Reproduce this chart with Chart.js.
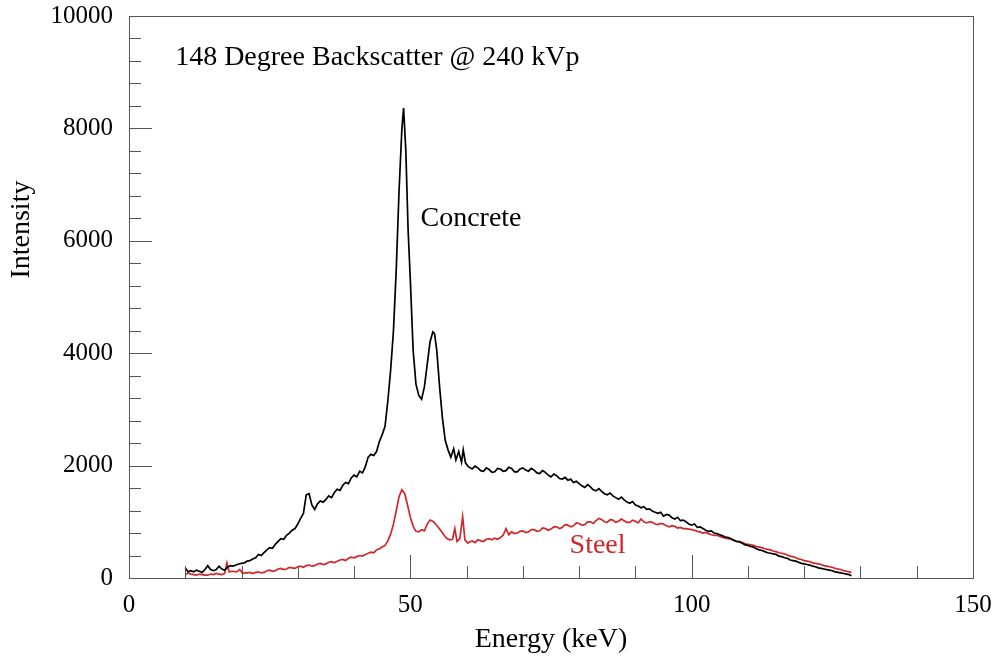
<!DOCTYPE html>
<html>
<head>
<meta charset="utf-8">
<script src="https://cdn.jsdelivr.net/npm/chart.js@4.4.1/dist/chart.umd.min.js"></script>
<style>
  body { margin: 0; background: #fff; }
  #wrap { width: 995px; height: 660px; }
</style>
</head>
<body>
<div id="wrap"><canvas id="myChart" width="995" height="660"></canvas></div>
<script>
// concrete spectrum (energy in keV, intensity)
var concreteE = [10, 10.5, 11, 11.5, 12, 12.5, 13, 13.5, 14, 14.5, 15, 15.5, 16, 16.5, 17, 17.5, 18, 18.5, 19, 19.5, 20, 20.5, 21, 21.5, 22, 22.5, 23, 23.5, 24, 24.5, 25, 25.5, 26, 26.5, 27, 27.5, 28, 28.5, 29, 29.5, 30, 30.5, 31, 31.5, 32, 32.5, 33, 33.5, 34, 34.5, 35, 35.5, 36, 36.5, 37, 37.5, 38, 38.5, 39, 39.5, 40, 40.5, 41, 41.5, 42, 42.5, 43, 43.5, 44, 44.5, 45, 45.5, 46, 46.5, 47, 47.5, 48, 48.5, 48.8, 49.2, 49.6, 50, 50.5, 51, 51.5, 52, 52.5, 53, 53.5, 54, 54.3, 54.7, 55.2, 55.7, 56.2, 56.7, 57.2, 57.7, 58.1, 58.6, 59.1, 59.4, 59.8, 60.3, 61, 61.5, 62, 62.5, 63, 63.5, 64, 64.5, 65, 65.5, 66, 66.5, 67, 67.5, 68, 68.5, 69, 69.5, 70, 70.5, 71, 71.5, 72, 72.5, 73, 73.5, 74, 74.5, 75, 75.5, 76, 76.5, 77, 77.5, 78, 78.5, 79, 79.5, 80, 80.5, 81, 81.5, 82, 82.5, 83, 83.5, 84, 84.5, 85, 85.5, 86, 86.5, 87, 87.5, 88, 88.5, 89, 89.5, 90, 90.5, 91, 91.5, 92, 92.5, 93, 93.5, 94, 94.5, 95, 95.5, 96, 96.5, 97, 97.5, 98, 98.5, 99, 99.5, 100, 100.5, 101, 101.5, 102, 102.5, 103, 103.5, 104, 104.5, 105, 105.5, 106, 106.5, 107, 107.5, 108, 108.5, 109, 109.5, 110, 110.5, 111, 111.5, 112, 112.5, 113, 113.5, 114, 114.5, 115, 115.5, 116, 116.5, 117, 117.5, 118, 118.5, 119, 119.5, 120, 120.5, 121, 121.5, 122, 122.5, 123, 123.5, 124, 124.5, 125, 125.5, 126, 126.5, 127, 127.5, 128, 128.4];
var concreteI = [180, 110, 130, 110, 140, 120, 100, 150, 220, 150, 130, 150, 210, 160, 140, 190, 220, 210, 230, 250, 260, 270, 300, 310, 340, 360, 420, 400, 450, 500, 540, 530, 600, 650, 700, 690, 760, 800, 850, 880, 960, 1060, 1150, 1480, 1500, 1300, 1220, 1320, 1370, 1350, 1400, 1460, 1430, 1520, 1580, 1560, 1650, 1700, 1680, 1780, 1830, 1800, 1900, 1870, 1980, 2150, 2200, 2180, 2250, 2430, 2550, 2700, 3150, 3700, 4400, 5500, 6900, 8000, 8360, 7600, 6200, 5300, 4050, 3450, 3250, 3180, 3400, 3800, 4200, 4380, 4350, 4050, 3400, 2850, 2450, 2280, 2150, 2300, 2100, 2250, 2060, 2280, 2050, 1980, 1940, 1990, 1960, 1910, 1900, 1960, 1930, 1880, 1890, 1950, 1940, 1900, 1910, 1970, 1950, 1890, 1890, 1940, 1960, 1920, 1900, 1950, 1920, 1870, 1860, 1910, 1880, 1830, 1800, 1850, 1820, 1770, 1760, 1790, 1740, 1760, 1700, 1720, 1680, 1640, 1610, 1660, 1620, 1570, 1550, 1590, 1540, 1500, 1480, 1510, 1460, 1430, 1400, 1440, 1390, 1350, 1330, 1360, 1300, 1280, 1250, 1270, 1220, 1230, 1190, 1170, 1150, 1170, 1100, 1130, 1120, 1070, 1050, 1080, 1020, 1030, 1000, 960, 940, 960, 900, 910, 880, 850, 830, 840, 800, 790, 770, 750, 730, 720, 700, 670, 650, 640, 620, 590, 580, 560, 550, 520, 500, 490, 470, 450, 440, 430, 420, 390, 380, 360, 350, 320, 310, 300, 280, 260, 250, 240, 230, 210, 200, 180, 170, 160, 150, 140, 130, 110, 100, 90, 80, 70, 60, 40];

// steel spectrum
var steelE = [10, 10.5, 11, 11.5, 12, 12.5, 13, 13.5, 14, 14.5, 15, 15.5, 16, 16.5, 17, 17.4, 17.8, 18.5, 19, 19.3, 19.7, 20.2, 20.5, 21, 21.5, 22, 22.5, 23, 23.5, 24, 24.5, 25, 25.5, 26, 26.5, 27, 27.5, 28, 28.5, 29, 29.5, 30, 30.5, 31, 31.5, 32, 32.5, 33, 33.5, 34, 34.5, 35, 35.5, 36, 36.5, 37, 37.5, 38, 38.5, 39, 39.5, 40, 40.5, 41, 41.5, 42, 42.5, 43, 43.5, 44, 44.5, 45, 45.5, 46, 46.5, 47, 47.5, 48, 48.5, 49, 49.5, 50, 50.5, 51, 51.5, 52, 52.5, 53, 53.5, 54, 54.5, 55, 55.5, 56, 56.5, 57, 57.5, 57.9, 58.3, 58.8, 59.3, 59.7, 60.2, 60.5, 61, 61.5, 62, 62.5, 63, 63.5, 64, 64.5, 65, 65.5, 66, 66.5, 67, 67.5, 68, 68.5, 69, 69.5, 70, 70.5, 71, 71.5, 72, 72.5, 73, 73.5, 74, 74.5, 75, 75.5, 76, 76.5, 77, 77.5, 78, 78.5, 79, 79.5, 80, 80.5, 81, 81.5, 82, 82.5, 83, 83.5, 84, 84.5, 85, 85.5, 86, 86.5, 87, 87.5, 88, 88.5, 89, 89.5, 90, 90.5, 91, 91.5, 92, 92.5, 93, 93.5, 94, 94.5, 95, 95.5, 96, 96.5, 97, 97.5, 98, 98.5, 99, 99.5, 100, 100.5, 101, 101.5, 102, 102.5, 103, 103.5, 104, 104.5, 105, 105.5, 106, 106.5, 107, 107.5, 108, 108.5, 109, 109.5, 110, 110.5, 111, 111.5, 112, 112.5, 113, 113.5, 114, 114.5, 115, 115.5, 116, 116.5, 117, 117.5, 118, 118.5, 119, 119.5, 120, 120.5, 121, 121.5, 122, 122.5, 123, 123.5, 124, 124.5, 125, 125.5, 126, 126.5, 127, 127.5, 128, 128.4];
var steelI = [60, 90, 70, 60, 50, 70, 60, 50, 50, 70, 60, 80, 70, 60, 80, 270, 110, 120, 110, 120, 150, 80, 90, 90, 100, 80, 100, 110, 90, 100, 130, 140, 120, 130, 160, 170, 150, 160, 190, 180, 170, 200, 210, 190, 220, 230, 210, 220, 250, 260, 240, 250, 280, 290, 270, 300, 320, 330, 310, 350, 370, 360, 380, 400, 390, 420, 440, 460, 450, 500, 520, 550, 580, 660, 780, 960, 1200, 1450, 1570, 1500, 1300, 1080, 920, 830, 820, 860, 840, 960, 1030, 1010, 960, 900, 830, 760, 700, 680, 690, 880, 650, 700, 1090, 680, 620, 640, 660, 630, 680, 660, 650, 690, 700, 680, 710, 690, 720, 760, 880, 770, 820, 790, 800, 830, 840, 810, 820, 860, 860, 830, 840, 890, 880, 850, 870, 910, 910, 880, 900, 950, 940, 910, 930, 980, 970, 940, 950, 1000, 1000, 970, 1020, 1060, 1040, 1000, 990, 1040, 1030, 990, 1010, 1050, 1020, 990, 990, 1030, 1010, 980, 1050, 1000, 980, 1000, 990, 960, 950, 970, 960, 930, 910, 930, 920, 890, 900, 880, 880, 870, 860, 850, 830, 820, 800, 810, 790, 770, 760, 760, 740, 720, 710, 700, 690, 670, 650, 650, 630, 610, 600, 590, 580, 560, 550, 540, 520, 510, 500, 480, 470, 450, 440, 430, 410, 390, 380, 360, 340, 330, 310, 300, 290, 270, 260, 250, 240, 220, 210, 200, 190, 170, 160, 150, 130, 120, 110, 95];

var xTicks = [0, 50, 100, 150];
var yTicks = [0, 2000, 4000, 6000, 8000, 10000];

function pairs(xs, ys) {
  var out = [];
  for (var i = 0; i < xs.length; i++) out.push({x: xs[i], y: ys[i]});
  return out;
}

var serif = "'Liberation Serif', 'Times New Roman', serif";
var red = 'rgb(210, 38, 42)';

// inner ticks, frame, tick labels and text labels
var decor = {
  id: 'decor',
  afterDraw: function(chart) {
    var c = chart.ctx, a = chart.chartArea;
    var xs = chart.scales.x, ys = chart.scales.y;
    c.save();
    c.strokeStyle = '#555';
    c.lineWidth = 1;
    c.beginPath();
    for (var v = 400; v < 10000; v += 400) {
      var py = Math.round(ys.getPixelForValue(v)) + 0.5;
      var len = (v % 2000 === 0) ? 23 : 12;
      c.moveTo(a.left, py); c.lineTo(a.left + len, py);
    }
    for (var e = 10; e < 150; e += 10) {
      var px = Math.round(xs.getPixelForValue(e)) + 0.5;
      var l2 = (e % 50 === 0) ? 23 : 12;
      c.moveTo(px, a.bottom); c.lineTo(px, a.bottom - l2);
    }
    c.stroke();
    c.strokeRect(Math.round(a.left) + 0.5, Math.round(a.top) + 0.5, Math.round(a.right - a.left), Math.round(a.bottom - a.top));

    c.fillStyle = '#000';
    c.font = '25px ' + serif;
    c.textBaseline = 'middle';
    c.textAlign = 'right';
    yTicks.forEach(function(t) { c.fillText(String(t), a.left - 16, ys.getPixelForValue(t)); });
    c.textAlign = 'center';
    xTicks.forEach(function(t) { c.fillText(String(t), xs.getPixelForValue(t), a.bottom + 27); });

    c.font = '28px ' + serif;
    c.fillText('Energy (keV)', (a.left + a.right) / 2, a.bottom + 62);
    c.save();
    c.translate(22, ys.getPixelForValue(6200));
    c.rotate(-Math.PI / 2);
    c.fillText('Intensity', 0, 0);
    c.restore();

    c.textAlign = 'left';
    c.fillText('148 Degree Backscatter @ 240 kVp', xs.getPixelForValue(8.2), ys.getPixelForValue(9260));
    c.fillText('Concrete', xs.getPixelForValue(51.8), ys.getPixelForValue(6400));
    c.fillStyle = red;
    c.fillText('Steel', xs.getPixelForValue(78.3), ys.getPixelForValue(580));
    c.restore();
  }
};

const ctx = document.getElementById('myChart').getContext('2d');
const myChart = new Chart(ctx, {
  type: 'line',
  data: {
    datasets: [{
      label: 'Concrete',
      data: pairs(concreteE, concreteI),
      borderColor: '#000',
      borderWidth: 1.7,
      pointRadius: 0,
      tension: 0
    }, {
      label: 'Steel',
      data: pairs(steelE, steelI),
      borderColor: red,
      borderWidth: 1.7,
      pointRadius: 0,
      tension: 0
    }]
  },
  options: {
    responsive: false,
    animation: false,
    layout: { padding: { left: 0, top: 16, right: 22, bottom: 0 } },
    plugins: { legend: { display: false }, tooltip: { enabled: false } },
    scales: {
      x: {
        type: 'linear',
        min: 0, max: 150,
        afterBuildTicks: function(s) { s.ticks = xTicks.map(function(v) { return {value: v}; }); },
        afterFit: function(s) { s.height = 82; },
        grid: { display: false, drawTicks: false },
        border: { display: false },
        ticks: { display: false }
      },
      y: {
        min: 0, max: 10000,
        afterBuildTicks: function(s) { s.ticks = yTicks.map(function(v) { return {value: v}; }); },
        afterFit: function(s) { s.width = 129; },
        grid: { display: false, drawTicks: false },
        border: { display: false },
        ticks: { display: false }
      }
    }
  },
  plugins: [decor]
});
</script>
</body>
</html>
